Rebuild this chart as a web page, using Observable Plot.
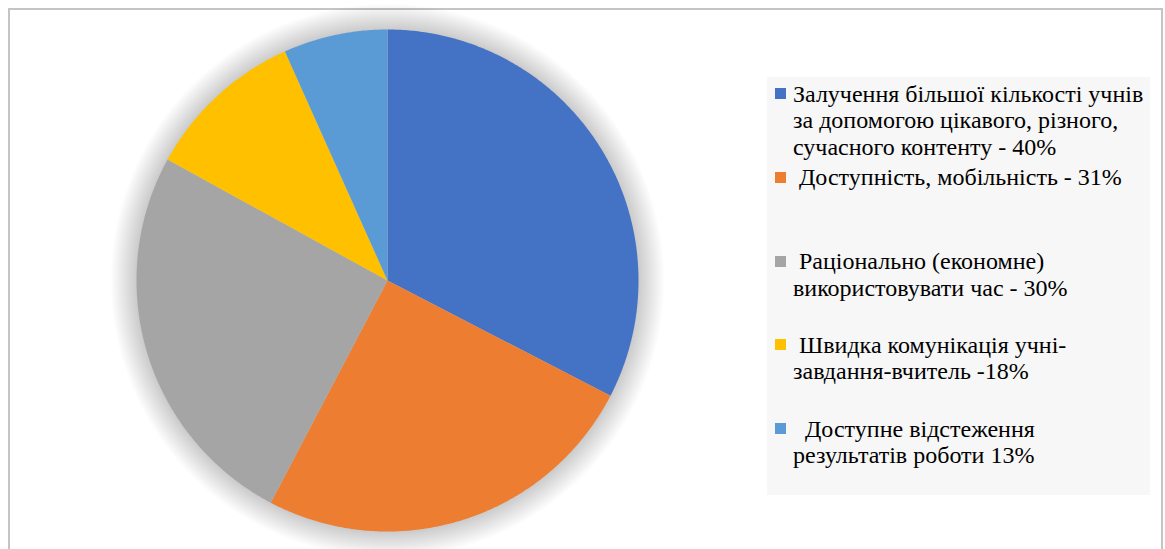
<!DOCTYPE html>
<html>
<head>
<meta charset="utf-8">
<script src="https://cdn.jsdelivr.net/npm/d3@7"></script>
<script src="https://cdn.jsdelivr.net/npm/@observablehq/plot@0.6"></script>
<style>
  html, body { margin: 0; padding: 0; background: #fff; }
  #wrap { position: relative; width: 1165px; height: 549px; overflow: hidden; }
  #frame { position: absolute; left: 8px; top: 8px; width: 1151px; height: 560px; border: 2px solid #c4c4c4; box-sizing: content-box; }
  #chart { position: absolute; left: 0; top: 0; }
  #legend { position: absolute; left: 767px; top: 77px; width: 383px; height: 418px; background: #f7f7f7;
            font-family: "Liberation Serif", "Times New Roman", serif; font-size: 24px; color: #000; }
  .entry { position: absolute; left: 0; }
  .sw { position: absolute; left: 8px; width: 11px; height: 11px; }
  .tx { position: absolute; left: 26px; white-space: pre; line-height: 26.5px; }
</style>
</head>
<body>
<div id="wrap">
  <div id="frame"></div>
  <div id="chart"></div>
  <div id="legend"></div>
</div>
<script>
// Categories (legend labels, as in the source)
const categories = [
  "Залучення більшої кількості учнів\nза допомогою цікавого, різного,\nсучасного контенту - 40%",
  " Доступність, мобільність - 31%",
  " Раціонально (економне)\nвикористовувати час - 30%",
  " Швидка комунікація учні-\nзавдання-вчитель -18%",
  "  Доступне відстеження\nрезультатів роботи 13%"
];
// Slice sizes (share of the circle, %)
const shares = [32.6, 25.1, 25.3, 10.3, 6.7];
const colors = ["#4472C4", "#ED7D31", "#A5A5A5", "#FFC000", "#5B9BD5"];

const pieData = categories.map((c, i) => ({cat: c, value: shares[i], color: colors[i]}));
const arcs = d3.pie().sort(null).value(d => d.value)(pieData);

// Build polygon outline of each slice from the pie angles
const pts = [];
arcs.forEach((a, i) => {
  pts.push({k: i, x: 0, y: 0});
  const n = Math.max(2, Math.ceil((a.endAngle - a.startAngle) / (Math.PI / 360)));
  for (let j = 0; j <= n; j++) {
    const t = a.startAngle + (a.endAngle - a.startAngle) * j / n;
    pts.push({k: i, x: Math.sin(t), y: Math.cos(t)});
  }
});

const W = 760, H = 549;
const cx = 387, cy = 280, R = 251;
// soft glow rings around the pie (decoration)
const glow = d3.range(1, 27).map(d => ({r: R + d}));
const plot = Plot.plot({
  width: W, height: H,
  marginLeft: cx - R, marginRight: W - (cx + R),
  marginTop: cy - R, marginBottom: H - (cy + R),
  x: {domain: [-1, 1], axis: null},
  y: {domain: [-1, 1], axis: null},
  r: {type: "identity"},
  color: {domain: d3.range(categories.length), range: colors},
  style: {background: "transparent", overflow: "visible"},
  marks: [
    Plot.dot(glow, {x: () => 0, y: () => 0, r: "r", fill: "#000", fillOpacity: 0.007, stroke: "none"}),
    Plot.line(pts, {x: "x", y: "y", z: "k", fill: "k", stroke: "none", curve: "linear-closed"})
  ]
});
document.getElementById("chart").appendChild(plot);

// Legend
const legend = document.getElementById("legend");
const firstTop = 3.6, step = 83.75;
categories.forEach((c, i) => {
  const e = document.createElement("div");
  e.className = "entry";
  e.style.top = (firstTop + i * step) + "px";
  const sw = document.createElement("div");
  sw.className = "sw";
  sw.style.background = colors[i];
  sw.style.top = "7.5px";
  const tx = document.createElement("div");
  tx.className = "tx";
  tx.textContent = c;
  e.appendChild(sw);
  e.appendChild(tx);
  legend.appendChild(e);
});
</script>
</body>
</html>
